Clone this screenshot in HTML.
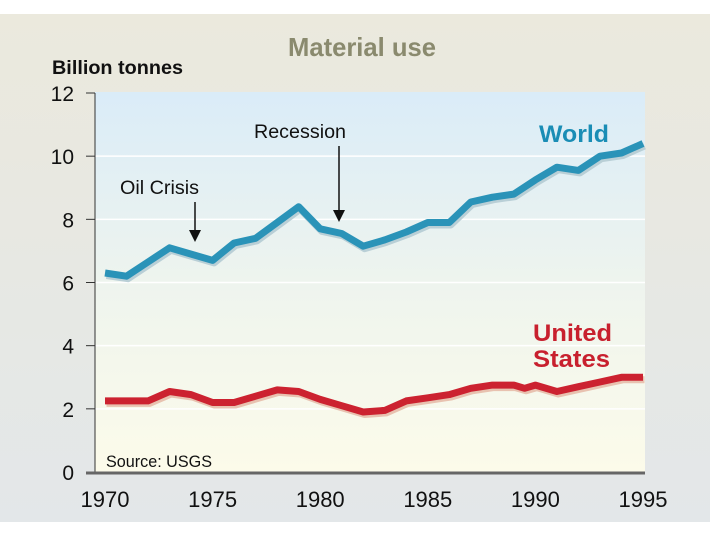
<!DOCTYPE html>
<html><head><meta charset="utf-8"><style>
body{margin:0;width:720px;height:540px;background:#fff;overflow:hidden;font-family:"Liberation Sans",sans-serif}
</style></head><body>
<svg width="720" height="540">
<defs>
<linearGradient id="outer" x1="0" y1="0" x2="0" y2="1"><stop offset="0" stop-color="#ebe9dd"/><stop offset="1" stop-color="#e3e7e9"/></linearGradient>
<linearGradient id="plot" x1="0" y1="0" x2="0" y2="1"><stop offset="0" stop-color="#daecf8"/><stop offset="0.5" stop-color="#eef4ee"/><stop offset="1" stop-color="#fcfbea"/></linearGradient>
</defs>
<rect x="0" y="14" width="710" height="508" fill="url(#outer)"/>
<rect x="95" y="92" width="550" height="380" fill="url(#plot)"/>
<text x="288" y="56" font-size="26" font-weight="bold" fill="#8a8a6e" textLength="148" lengthAdjust="spacingAndGlyphs">Material use</text>
<text x="52" y="74" font-size="19" font-weight="bold" fill="#111" textLength="131" lengthAdjust="spacingAndGlyphs">Billion tonnes</text>
<g id="grid"></g>
<g id="axes"></g>
<g id="series"></g>
<text x="539" y="142" font-size="24" font-weight="bold" fill="#1a8db5" textLength="70" lengthAdjust="spacingAndGlyphs">World</text>
<text x="533" y="341" font-size="24" font-weight="bold" fill="#c8202e" textLength="79" lengthAdjust="spacingAndGlyphs">United</text>
<text x="533" y="367" font-size="24" font-weight="bold" fill="#c8202e" textLength="77" lengthAdjust="spacingAndGlyphs">States</text>
<text x="106" y="467" font-size="17" fill="#111" textLength="106" lengthAdjust="spacingAndGlyphs">Source: USGS</text>
<text x="254" y="138" font-size="19" fill="#111" textLength="92" lengthAdjust="spacingAndGlyphs">Recession</text>
<text x="120" y="194" font-size="19" fill="#111" textLength="79" lengthAdjust="spacingAndGlyphs">Oil Crisis</text>
<g><line x1="339" y1="146" x2="339" y2="214" stroke="#111" stroke-width="1.5"/><path d="M333,210 L339,222 L345,210Z" fill="#111"/></g>
<g><line x1="195" y1="202" x2="195" y2="234" stroke="#111" stroke-width="1.5"/><path d="M189,230 L195,242 L201,230Z" fill="#111"/></g>
</svg>
<script>
const years=[1970,1971,1972,1973,1974,1975,1976,1977,1978,1979,1980,1981,1982,1983,1984,1985,1986,1987,1988,1989,1990,1991,1992,1993,1994,1995];
const worldValues=[6.3,6.2,6.65,7.1,6.9,6.7,7.25,7.4,7.9,8.4,7.7,7.55,7.15,7.35,7.6,7.9,7.9,8.55,8.7,8.8,9.25,9.65,9.55,10.0,10.1,10.4];
const usYears=[1970,1971,1972,1973,1974,1975,1976,1977,1978,1979,1980,1981,1982,1983,1984,1985,1986,1987,1988,1989,1989.5,1990,1991,1992,1993,1994,1995];
const usValues=[2.25,2.25,2.25,2.55,2.45,2.2,2.2,2.4,2.6,2.55,2.3,2.1,1.9,1.95,2.25,2.35,2.45,2.65,2.75,2.75,2.65,2.75,2.55,2.7,2.85,3.0,3.0];
const yTicks=[0,2,4,6,8,10,12];
const xTicks=[1970,1975,1980,1985,1990,1995];
const NS="http://www.w3.org/2000/svg";
const X=v=>105+(v-1970)*(538/25);
const Y=v=>472-v*(379/12);
function mk(t,a,p){const e=document.createElementNS(NS,t);for(const k in a)e.setAttribute(k,a[k]);p.appendChild(e);return e;}
const grid=document.getElementById('grid'),axes=document.getElementById('axes'),series=document.getElementById('series');
yTicks.forEach(v=>{
  if(v>0&&v<12){const g=mk('line',{x1:95,x2:645,y1:Y(v),y2:Y(v),stroke:'#ffffff','stroke-width':1.5},grid);
  
  }
  const t=mk('line',{x1:86,x2:95,y1:Y(v),y2:Y(v),stroke:'#333','stroke-width':1},axes);
  
  
  const l=mk('text',{x:74,y:Y(v)+8,'font-size':21,'text-anchor':'end',fill:'#111'},axes);
  l.textContent=v;
  
  
});
const ya=mk('line',{x1:95,x2:95,y1:Y(12),y2:Y(0),stroke:'#333','stroke-width':1},axes);


const xa=mk('line',{x1:86,x2:645,y1:Y(0)+1,y2:Y(0)+1,stroke:'#666','stroke-width':3},axes);


xTicks.forEach(v=>{
  const l=mk('text',{x:X(v),y:507,'font-size':22,'text-anchor':'middle',fill:'#111'},axes);
  l.textContent=v;
  
  
});
function draw(xs,ys,color,shadow,name){
  const d=xs.map((x,i)=>(i?'L':'M')+X(x).toFixed(1)+','+Y(ys[i]).toFixed(1)).join(' ');
  const s=mk('path',{d:d,fill:'none',stroke:shadow,'stroke-width':7,'stroke-linejoin':'round',transform:'translate(1.5,2.5)'},series);
  
  
  const p=mk('path',{d:d,fill:'none',stroke:color,'stroke-width':7,'stroke-linejoin':'round'},series);
  
  
}
draw(years,worldValues,'#2a93b8','#b9cfd6','world-line');
draw(usYears,usValues,'#cc2230','#e8c2b0','us-line');
</script>
</body></html>
